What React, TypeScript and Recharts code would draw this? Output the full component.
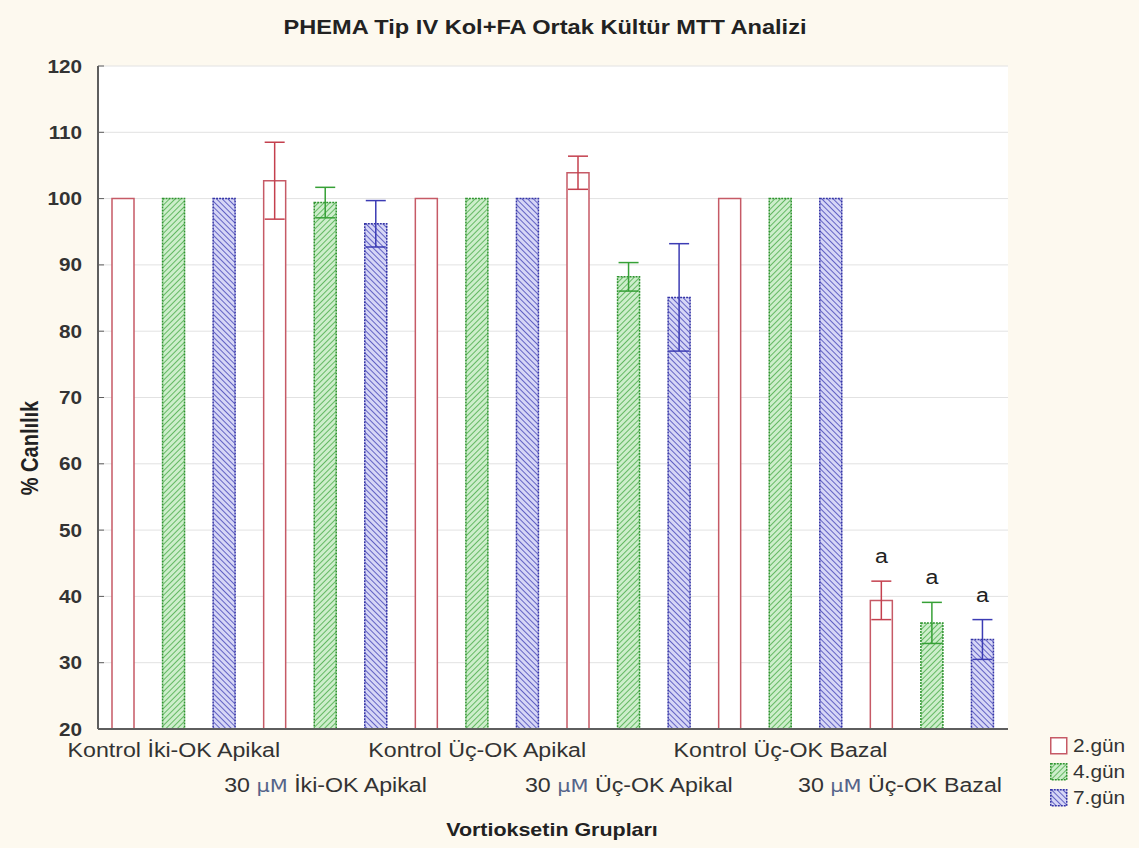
import React from 'react'
import { BarChart, Bar, XAxis, YAxis, CartesianGrid, ErrorBar, LabelList } from 'recharts'

// groups along the x axis, three days per group
const groups = [
  'Kontrol İki-OK Apikal',
  '30 μM İki-OK Apikal',
  'Kontrol Üç-OK Apikal',
  '30 μM Üç-OK Apikal',
  'Kontrol Üç-OK Bazal',
  '30 μM Üç-OK Bazal',
]
const days = ['2.gün', '4.gün', '7.gün']

const gun2 = [100, 102.7, 100, 103.9, 100, 39.4]
const gun2Err = [0, 5.8, 0, 2.5, 0, 2.9]
const gun4 = [100, 99.4, 100, 88.2, 100, 36.0]
const gun4Err = [0, 2.3, 0, 2.15, 0, 3.1]
const gun7 = [100, 96.2, 100, 85.1, 100, 33.5]
const gun7Err = [0, 3.5, 0, 8.1, 0, 3.0]
const signif = ['', '', '', '', '', 'a']

const yTicks = [20, 30, 40, 50, 60, 70, 80, 90, 100, 110, 120]

const values = [gun2, gun4, gun7]
const errors = [gun2Err, gun4Err, gun7Err]

// one slot per bar; each row only carries the value of its own day
const rows = groups.flatMap((g, gi) =>
  days.map((d, di) => {
    const row: any = { slot: `${gi}-${di}`, group: gi, day: di }
    row[`d${di}`] = values[di][gi]
    row[`e${di}`] = errors[di][gi] || undefined
    row[`s${di}`] = signif[gi] || undefined
    return row
  })
)

const W = 1139
const H = 848
const PLOT_LEFT = 98
const PLOT_RIGHT = 1008
const SX = 1.16 // horizontal text stretch
const FONT = "'Liberation Sans', Arial, sans-serif"
const TEXT = '#333333'
const FRAME = '#5e5e5e'

const seriesStyle = [
  { fill: '#ffffff', stroke: '#c65a66', dash: undefined, err: '#c4404e' },
  { fill: 'url(#hatchGreen)', stroke: '#2f942f', dash: '2 1', err: '#36a036' },
  { fill: 'url(#hatchBlue)', stroke: '#3434a6', dash: '2 1', err: '#3c3cb4' },
]

function GroupTick(props: any) {
  const { x, y, payload } = props
  const row = rows.find(r => r.slot === payload.value)
  if (!row || row.day !== 1) return null
  const label = groups[row.group]
  const lower = row.group % 2 === 1
  const last = row.group === groups.length - 1
  const dy = lower ? 63 : 28
  const tx = last ? PLOT_RIGHT - 6 : x
  const anchor = last ? 'end' : 'middle'
  const micro = label.startsWith('30 μM ')
  return (
    <g transform={`translate(${tx},${y + dy}) scale(${SX},1)`}>
      <text textAnchor={anchor} fontFamily={FONT} fontSize={20} fill={TEXT}>
        {micro ? (
          <>
            <tspan>30 </tspan>
            <tspan fill="#55648a" fontFamily="'DejaVu Sans', sans-serif" fontSize={18}>μM</tspan>
            <tspan> {label.slice(6)}</tspan>
          </>
        ) : label}
      </text>
    </g>
  )
}

function ValueTick(props: any) {
  const { x, y, payload } = props
  return (
    <g transform={`translate(${x},${y}) scale(1.15,1)`}>
      <text textAnchor="end" dy={6.5} fontFamily={FONT} fontSize={18} fontWeight={700} fill={TEXT}>
        {payload.value}
      </text>
    </g>
  )
}

// significance letter placed above the error bar cap
const sigLabel = (props: any) => {
  const raw = props.value
  if (!raw || typeof raw !== 'string') return null
  const [letter, v, e] = raw.split('|')
  const vb = props.viewBox ?? props
  const x = props.x ?? vb.x
  const y = props.y ?? vb.y
  const width = props.width ?? vb.width
  const height = props.height ?? vb.height
  const px = height / (Number(v) - 20)
  const top = y - Number(e) * px
  return (
    <g transform={`translate(${x + width / 2},${top - 18}) scale(${SX},1)`}>
      <text textAnchor="middle" fontFamily={FONT} fontSize={20} fill="#222">{letter}</text>
    </g>
  )
}

const sigAccessor = (di: number) => (entry: any) => {
  const p = entry?.payload ?? entry
  const s = p?.[`s${di}`]
  return s ? `${s}|${p[`d${di}`]}|${p[`e${di}`] ?? 0}` : undefined
}

export default function App() {
  return (
    <div style={{ position: 'absolute', left: 0, top: 0, width: W, height: H, background: '#fdf9ef' }}>
      <BarChart
        width={W}
        height={H}
        data={rows}
        margin={{ top: 66, right: W - PLOT_RIGHT, bottom: 0, left: 0 }}
        barSize={22}
        barGap={-22}
      >
        <CartesianGrid vertical={false} stroke="#e2e2e2" fill="#ffffff" />
        <XAxis
          dataKey="slot"
          height={119}
          interval={0}
          tickLine={false}
          tickSize={0}
          tickMargin={0}
          axisLine={{ stroke: FRAME, strokeWidth: 2 }}
          tick={<GroupTick />}
        />
        <XAxis xAxisId="top" dataKey="slot" orientation="top" height={0} tick={false} tickLine={false} axisLine={{ stroke: FRAME, strokeWidth: 2 }} />
        <YAxis
          width={PLOT_LEFT}
          domain={[20, 120]}
          ticks={yTicks}
          allowDataOverflow
          tickSize={-6}
          tickMargin={22}
          axisLine={{ stroke: FRAME, strokeWidth: 2 }}
          tickLine={{ stroke: FRAME }}
          tick={<ValueTick />}
        />
        <YAxis
          yAxisId="right"
          orientation="right"
          width={0}
          domain={[20, 120]}
          ticks={yTicks}
          tickSize={-6}
          tick={false}
          axisLine={{ stroke: FRAME, strokeWidth: 2 }}
          tickLine={{ stroke: FRAME }}
        />
        {days.map((d, di) => (
          <Bar
            key={d}
            dataKey={`d${di}`}
            name={d}
            fill={seriesStyle[di].fill}
            stroke={seriesStyle[di].stroke}
            strokeWidth={1.5}
            strokeDasharray={seriesStyle[di].dash}
            isAnimationActive={false}
          >
            <ErrorBar dataKey={`e${di}`} width={10} stroke={seriesStyle[di].err} strokeWidth={1.5} />
            <LabelList valueAccessor={sigAccessor(di)} content={sigLabel} />
          </Bar>
        ))}
      </BarChart>

      <svg width={W} height={H} style={{ position: 'absolute', left: 0, top: 0, pointerEvents: 'none' }}>
        <defs>
          <pattern id="hatchGreen" width="4" height="4" patternUnits="userSpaceOnUse" patternTransform="rotate(45)">
            <rect width="4" height="4" fill="#cdeecb" />
            <line x1="0" y1="0" x2="0" y2="4" stroke="#4aac4a" strokeWidth="1.6" />
          </pattern>
          <pattern id="hatchBlue" width="4" height="4" patternUnits="userSpaceOnUse" patternTransform="rotate(-45)">
            <rect width="4" height="4" fill="#d6d6f6" />
            <line x1="0" y1="0" x2="0" y2="4" stroke="#4646b8" strokeWidth="1.6" />
          </pattern>
        </defs>

        <text x={545} y={34} textAnchor="middle" fontFamily={FONT} fontSize={20} fontWeight={700} fill="#222"
          textLength={523} lengthAdjust="spacingAndGlyphs">
          PHEMA Tip IV Kol+FA Ortak Kültür MTT Analizi
        </text>

        <g transform="translate(38,448) rotate(-90) scale(1,1.15)">
          <text textAnchor="middle" fontFamily={FONT} fontSize={20} fontWeight={700} fill="#222">% Canlılık</text>
        </g>

        <g transform="translate(552,836) scale(1.16,1)">
          <text textAnchor="middle" fontFamily={FONT} fontSize={18.5} fontWeight={700} fill="#222">Vortioksetin Grupları</text>
        </g>

        {days.map((d, di) => (
          <g key={d} transform={`translate(1050,${737 + di * 26})`}>
            <rect x={0.75} y={0.75} width={16} height={16} fill={seriesStyle[di].fill} stroke={seriesStyle[di].stroke}
              strokeWidth={1.5} strokeDasharray={seriesStyle[di].dash} />
            <g transform={`translate(23,15) scale(${SX},1)`}>
              <text fontFamily={FONT} fontSize={18} fill={TEXT}>{d}</text>
            </g>
          </g>
        ))}
      </svg>
    </div>
  )
}
